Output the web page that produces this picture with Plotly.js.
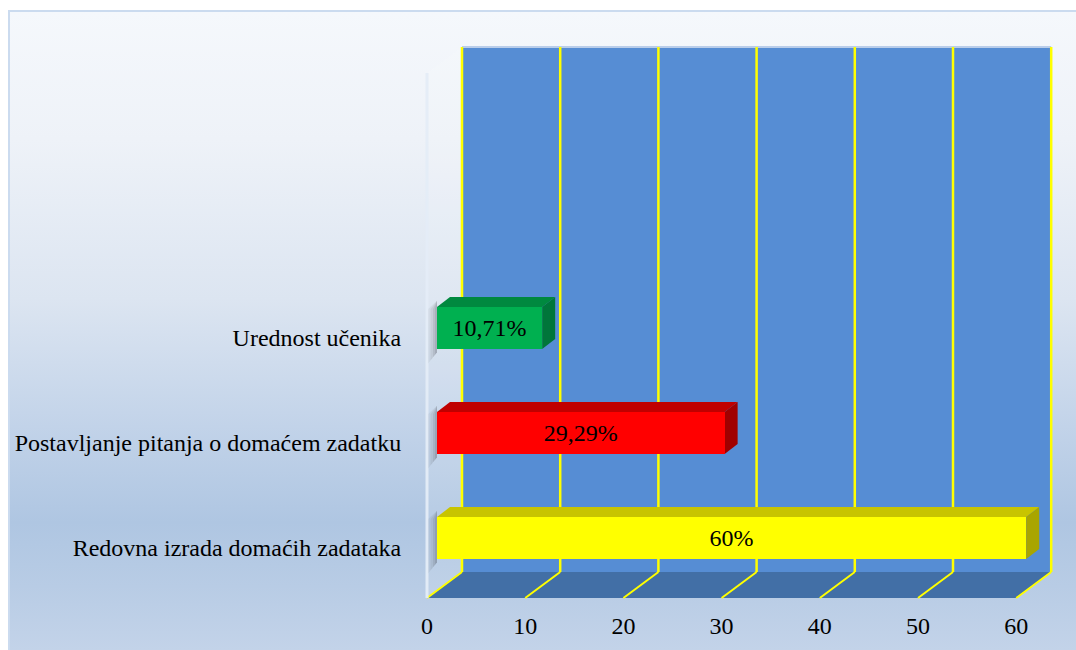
<!DOCTYPE html>
<html>
<head>
<meta charset="utf-8">
<script src="https://cdn.plot.ly/plotly-3.0.1.min.js"></script>
<style>
  html, body { margin: 0; padding: 0; width: 1076px; height: 650px; overflow: hidden; background: #ffffff; }
  #frame { position: absolute; left: 8px; top: 10px; width: 1068px; height: 640px;
    border-left: 2px solid #CBDBEF; border-top: 2px solid #CBDBEF; box-sizing: border-box;
    background: linear-gradient(to bottom, #F5F8FC 0%, #EEF2F8 20%, #DCE5F1 45%, #C2D3E9 65%, #AFC6E2 80%, #B8CCE5 90%, #C3D3E9 100%); }
  #chart { position: absolute; left: 0; top: 0; width: 1076px; height: 650px; }
</style>
</head>
<body>
<div id="frame"></div>
<div id="chart"></div>
<script>
// ---- data ----
const categories = ['Redovna izrada domaćih zadataka', 'Postavljanje pitanja o domaćem zadatku', 'Urednost učenika'];
const values = [60, 29.29, 10.71];
const valueLabels = ['60%', '29,29%', '10,71%'];
const frontColors = ['#FFFF00', '#FF0000', '#00B050'];
const topColors = ['#C8C400', '#C00000', '#00893F'];
const sideColors = ['#A9A500', '#A00000', '#00763A'];
const tickValues = [0, 10, 20, 30, 40, 50, 60];
const tickLabels = ['0', '10', '20', '30', '40', '50', '60'];

const SERIF = '"Liberation Serif", "Times New Roman", serif';

// ---- pseudo-3D geometry (pixel scale of the axes) ----
const W = 1076, H = 650;
const M = { l: 415, r: 16, t: 40, b: 47 };
const UX = 9.82;   // px per x unit
const UY = 105;    // px per category step
const xMin = -12 / UX;
const xMax = xMin + (W - M.l - M.r) / UX;
const yMin = -55 / UY;
const yMax = yMin + (H - M.t - M.b) / UY;

const xMaxTick = tickValues[tickValues.length - 1];
const DX = 35 / UX;         // wall depth in x
const yFront = -50 / UY;    // floor front edge
const yBack = -24 / UY;     // floor back edge
const yTop = 501 / UY;      // top of back wall
const yTopFront = yTop - 26 / UY;
const X0 = 10 / UX;         // front face start of bars
const BDX = 13 / UX, BDY = 10 / UY;  // bar depth
const HALF = 21 / UY;       // half bar height
const LIFT = 10 / UY;       // bar centre above category position

const shapes = [];
function poly(pts, fill, extra) {
  const d = 'M ' + pts.map(p => p[0] + ',' + p[1]).join(' L ') + ' Z';
  shapes.push(Object.assign({ type: 'path', xref: 'x', yref: 'y', path: d, fillcolor: fill,
    line: { width: 0 }, layer: 'below' }, extra || {}));
}
function seg(x0, y0, x1, y1, color, width) {
  shapes.push({ type: 'line', xref: 'x', yref: 'y', x0, y0, x1, y1, layer: 'below',
    line: { color, width } });
}

// side wall (faint)
poly([[0, yFront], [0, yTopFront], [DX, yTop], [DX, yBack]], 'rgba(255,255,255,0.10)');
// back wall
poly([[DX, yBack], [DX, yTop], [xMaxTick + DX, yTop], [xMaxTick + DX, yBack]], '#568DD4');
seg(DX, yTop, xMaxTick + DX, yTop, '#B9CDEA', 2);
// floor
poly([[0, yFront], [xMaxTick, yFront], [xMaxTick + DX, yBack], [DX, yBack]], '#426FA6');
// gridlines
tickValues.forEach(v => {
  seg(v + DX, yBack, v + DX, yTop, '#FFFF00', 2.5);
  seg(v, yFront, v + DX, yBack, '#FFFF00', 2);
});
// left wall edge
seg(0, yFront, 0, yTopFront, 'rgba(228,236,247,0.95)', 3);

// bars: soft shadows, top and side faces
values.forEach((v, i) => {
  const c = i + LIFT;
  const lo = c - HALF, hi = c + HALF;
  [[0.9, 0.06], [0.65, 0.08], [0.4, 0.10], [0.2, 0.12]].forEach(([w, a]) => {
    poly([[X0 - w, lo - 0.12 * w - 0.03], [X0 - w, hi - 0.02], [X0, hi + 0.06], [X0, lo - 0.03]],
      'rgba(60,60,70,' + a + ')');
  });
  poly([[X0, hi], [X0 + v, hi], [X0 + v + BDX, hi + BDY], [X0 + BDX, hi + BDY]], topColors[i]);
  poly([[X0 + v, lo], [X0 + v, hi], [X0 + v + BDX, hi + BDY], [X0 + v + BDX, lo + BDY]], sideColors[i]);
});

const bars = {
  type: 'bar', orientation: 'h',
  x: values, base: values.map(() => X0),
  y: categories.map((_, i) => i + LIFT),
  width: 2 * HALF,
  marker: { color: frontColors, line: { width: 0 } },
  text: valueLabels, textposition: 'inside', insidetextanchor: 'middle',
  textangle: 0, constraintext: 'none',
  textfont: { family: SERIF, size: 24, color: '#000000' },
  hoverinfo: 'skip', showlegend: false
};

const layout = {
  width: W, height: H,
  margin: M,
  paper_bgcolor: 'rgba(0,0,0,0)', plot_bgcolor: 'rgba(0,0,0,0)',
  showlegend: false,
  font: { family: SERIF, size: 24, color: '#000000' },
  xaxis: {
    range: [xMin, xMax], tickvals: tickValues, ticktext: tickLabels,
    showgrid: false, zeroline: false, showline: false,
    ticks: 'outside', ticklen: 1, tickcolor: 'rgba(0,0,0,0)',
    tickfont: { family: SERIF, size: 24, color: '#000000' },
    fixedrange: true
  },
  yaxis: {
    range: [yMin, yMax], tickvals: categories.map((_, i) => i), ticktext: categories,
    showgrid: false, zeroline: false, showline: false,
    ticks: 'outside', ticklen: 8, tickcolor: 'rgba(0,0,0,0)',
    tickfont: { family: SERIF, size: 24, color: '#000000' },
    fixedrange: true
  },
  shapes: shapes,
  bargap: 0
};

Plotly.newPlot('chart', [bars], layout, { displayModeBar: false, staticPlot: true });
</script>
</body>
</html>
